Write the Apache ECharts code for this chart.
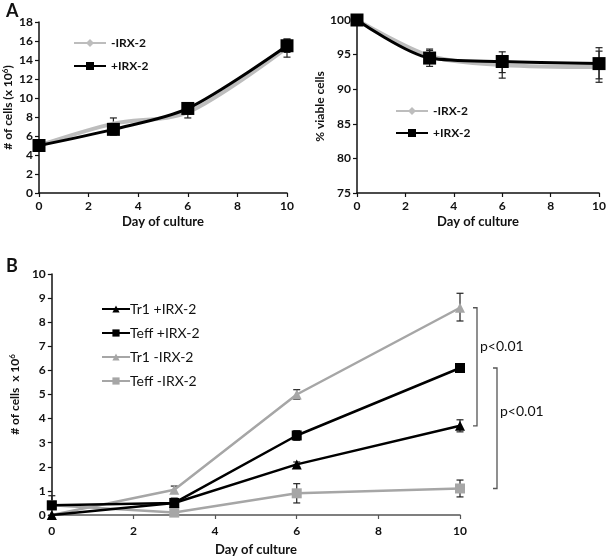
<!DOCTYPE html>
<html><head><meta charset="utf-8">
<script src="https://cdn.jsdelivr.net/npm/echarts@6/dist/echarts.min.js"></script>
<style>html,body{margin:0;padding:0;background:#fff}#c{width:609px;height:557px}</style>
</head><body><div id="c"></div>
<script>
// ---- data ----
const daysA = [0, 3, 6, 10];
const cellsMinus = [5.0, 7.3, 8.5, 15.3];
const cellsPlus = [5.0, 6.7, 8.9, 15.5];
const cellsMinusErr = [null, [6.7, 7.9], [7.9, 9.1], [14.3, 16.2]];
const cellsPlusErr = [null, [6.1, 7.3], [8.3, 9.4], [14.8, 16.2]];

const viaMinus = [100, 94.8, 93.5, 93.2];
const viaPlus = [100, 94.5, 94.0, 93.7];
const viaMinusErr = [null, [93.8, 95.6], [92.4, 94.6], [91.5, 95.5]];
const viaPlusErr = [null, [93.3, 95.8], [91.6, 95.4], [91.0, 96.0]];

const daysB = [0, 3, 6, 10];
const tr1Plus = [0.0, 0.5, 2.1, 3.7];
const teffPlus = [0.4, 0.5, 3.3, 6.1];
const tr1Minus = [0.0, 1.05, 5.0, 8.6];
const teffMinus = [0.4, 0.1, 0.9, 1.1];
const tr1PlusErr = [null, null, [2.0, 2.2], [3.45, 3.95]];
const teffPlusErr = [[0.0, 0.8], [0.3, 0.7], [3.1, 3.5], null];
const tr1MinusErr = [null, [0.9, 1.2], [4.8, 5.2], [8.05, 9.2]];
const teffMinusErr = [null, null, [0.5, 1.3], [0.75, 1.45]];

// significance brackets: [top, bottom, labelY]
const brackets = [[8.6, 3.7, 7.0], [6.1, 1.1, 4.3]];
const bracketLabel = 'p<0.01';

const xTicksA = [0, 10, 2];
const yTicksCells = [0, 18, 2];
const yTicksVia = [75, 100, 5];
const yTicksB = [0, 10, 1];

// ---- helpers ----
const FONT = 'Lato';
const pair = (xs, ys) => xs.map((x, i) => [x, ys[i]]);
const errData = (xs, errs) => xs.map((x, i) => errs[i] ? [x, errs[i][0], errs[i][1]] : null).filter(Boolean);

function errSeries(idx, xs, errs, color) {
  return {
    type: 'custom', xAxisIndex: idx, yAxisIndex: idx, z: 1, silent: true,
    data: errData(xs, errs),
    renderItem: function (params, api) {
      const lo = api.coord([api.value(0), api.value(1)]);
      const hi = api.coord([api.value(0), api.value(2)]);
      const w = 3.5;
      const st = { stroke: color || '#222', lineWidth: 1.2 };
      return { type: 'group', children: [
        { type: 'line', shape: { x1: lo[0], y1: lo[1], x2: hi[0], y2: hi[1] }, style: st },
        { type: 'line', shape: { x1: lo[0] - w, y1: lo[1], x2: lo[0] + w, y2: lo[1] }, style: st },
        { type: 'line', shape: { x1: hi[0] - w, y1: hi[1], x2: hi[0] + w, y2: hi[1] }, style: st }
      ]};
    }
  };
}

function axisX(idx, ticks, lineColor, gap, margin) {
  return {
    type: 'value', gridIndex: idx, min: ticks[0], max: ticks[1], interval: ticks[2],
    name: 'Day of culture', nameLocation: 'middle', nameGap: gap,
    nameTextStyle: { fontFamily: FONT, fontWeight: 'bold', fontSize: 13, color: '#111' },
    axisLine: { lineStyle: { color: lineColor, width: 1.5 } },
    axisTick: { show: true, length: 4, lineStyle: { color: lineColor, width: 1.2 } },
    axisLabel: { fontFamily: FONT, fontWeight: 'bold', fontSize: 12, color: '#111', margin: margin },
    splitLine: { show: false }
  };
}
function axisY(idx, ticks, name, gap) {
  return {
    type: 'value', gridIndex: idx, min: ticks[0], max: ticks[1], interval: ticks[2],
    name: name, nameLocation: 'middle', nameGap: gap,
    nameTextStyle: { fontFamily: FONT, fontWeight: 'bold', fontSize: 12, color: '#111',
      rich: { sup: { fontFamily: FONT, fontWeight: 'bold', fontSize: 8, verticalAlign: 'top', padding: [0,0,6,0] } } },
    axisLine: { show: true, lineStyle: { color: '#111', width: 1.5 } },
    axisTick: { show: true, length: 4, lineStyle: { color: '#111', width: 1.2 } },
    axisLabel: { fontFamily: FONT, fontWeight: 'bold', fontSize: 12, color: '#111', margin: 6 },
    splitLine: { show: false }
  };
}

const GRAY_A = '#bdbdbd', GRAY_B = '#a6a6a6';

const option = {
  animation: false,
  backgroundColor: '#fff',
  title: [
    { text: 'A', left: 1, top: -3, textStyle: { fontFamily: FONT, fontWeight: 'bold', fontSize: 18, color: '#111' } },
    { text: 'B', left: 1, top: 252, textStyle: { fontFamily: FONT, fontWeight: 'bold', fontSize: 18, color: '#111' } }
  ],
  grid: [
    { left: 39, top: 22, width: 248, height: 171 },
    { left: 357, top: 20, width: 246, height: 173 },
    { left: 39, top: 274, width: 421, height: 242 }
  ],
  xAxis: [axisX(0, xTicksA, '#111', 22, 7), axisX(1, xTicksA, '#111', 22, 7), axisX(2, xTicksA, '#555', 28, 10)],
  yAxis: [
    axisY(0, yTicksCells, '# of cells (x 10{sup|6})', 24),
    axisY(1, yTicksVia, '% viable cells', 28),
    axisY(2, yTicksB, '# of cells  x 10{sup|6}', 22)
  ],
  legend: [
    { data: ['-IRX-2', '+IRX-2'], orient: 'vertical', left: 68, top: 32, itemGap: 11, itemWidth: 32, itemHeight: 10,
      textStyle: { fontFamily: FONT, fontWeight: 'bold', fontSize: 12, color: '#111' } },
    { data: ['-IRX-2 ', '+IRX-2 '], orient: 'vertical', left: 390, top: 100, itemGap: 10, itemWidth: 32, itemHeight: 10,
      textStyle: { fontFamily: FONT, fontWeight: 'bold', fontSize: 12, color: '#111' } },
    { data: ['Tr1 +IRX-2', 'Teff +IRX-2', 'Tr1 -IRX-2', 'Teff -IRX-2'], orient: 'vertical', left: 96, top: 297,
      itemGap: 10, itemWidth: 28, itemHeight: 9,
      textStyle: { fontFamily: FONT, fontSize: 14, color: '#111', padding: [0,0,0,-5] } }
  ],
  series: [
    errSeries(0, daysA, cellsMinusErr),
    errSeries(0, daysA, cellsPlusErr),
    { name: '-IRX-2', type: 'line', xAxisIndex: 0, yAxisIndex: 0, smooth: 0.3, data: pair(daysA, cellsMinus),
      symbol: 'diamond', symbolSize: 5, lineStyle: { color: GRAY_A, width: 4 }, itemStyle: { color: GRAY_A }, z: 2 },
    { name: '+IRX-2', type: 'line', xAxisIndex: 0, yAxisIndex: 0, smooth: 0.3, data: pair(daysA, cellsPlus),
      symbol: 'rect', symbolSize: 13, lineStyle: { color: '#000', width: 3 }, itemStyle: { color: '#000' }, z: 3 },

    errSeries(1, daysA, viaMinusErr),
    errSeries(1, daysA, viaPlusErr),
    { name: '-IRX-2 ', type: 'line', xAxisIndex: 1, yAxisIndex: 1, smooth: 0.3, data: pair(daysA, viaMinus),
      symbol: 'diamond', symbolSize: 5, lineStyle: { color: GRAY_A, width: 4 }, itemStyle: { color: GRAY_A }, z: 2 },
    { name: '+IRX-2 ', type: 'line', xAxisIndex: 1, yAxisIndex: 1, smooth: 0.3, data: pair(daysA, viaPlus),
      symbol: 'rect', symbolSize: 13, lineStyle: { color: '#000', width: 3 }, itemStyle: { color: '#000' }, z: 3 },

    errSeries(2, daysB, tr1PlusErr),
    errSeries(2, daysB, teffPlusErr),
    errSeries(2, daysB, tr1MinusErr),
    errSeries(2, daysB, teffMinusErr),
    { name: 'Tr1 +IRX-2', type: 'line', xAxisIndex: 2, yAxisIndex: 2, data: pair(daysB, tr1Plus),
      symbol: 'triangle', symbolSize: 10, lineStyle: { color: '#000', width: 2.5 }, itemStyle: { color: '#000' }, z: 3 },
    { name: 'Teff +IRX-2', type: 'line', xAxisIndex: 2, yAxisIndex: 2, data: pair(daysB, teffPlus),
      symbol: 'rect', symbolSize: 10, lineStyle: { color: '#000', width: 2.5 }, itemStyle: { color: '#000' }, z: 3 },
    { name: 'Tr1 -IRX-2', type: 'line', xAxisIndex: 2, yAxisIndex: 2, data: pair(daysB, tr1Minus),
      symbol: 'triangle', symbolSize: 10, lineStyle: { color: GRAY_B, width: 2.5 }, itemStyle: { color: GRAY_B }, z: 2 },
    { name: 'Teff -IRX-2', type: 'line', xAxisIndex: 2, yAxisIndex: 2, data: pair(daysB, teffMinus),
      symbol: 'rect', symbolSize: 10, lineStyle: { color: GRAY_B, width: 2.5 }, itemStyle: { color: GRAY_B }, z: 2 },
    {
      type: 'custom', xAxisIndex: 2, yAxisIndex: 2, silent: true, clip: false,
      data: brackets.map((b, i) => [10, b[0], b[1], b[2], i]),
      renderItem: function (params, api) {
        const i = api.value(4);
        const dx = i === 0 ? 17 : 37;
        const top = api.coord([10, api.value(1)]);
        const bot = api.coord([10, api.value(2)]);
        const lab = api.coord([10, api.value(3)]);
        const x = top[0] + dx;
        const st = { stroke: '#555', lineWidth: 1.3, fill: null };
        return { type: 'group', children: [
          { type: 'polyline', shape: { points: [[x - 4, top[1]], [x, top[1]], [x, bot[1]], [x - 4, bot[1]]] }, style: st },
          { type: 'text', x: x + 3, y: lab[1], style: { text: bracketLabel, fontFamily: FONT, fontSize: 14, fill: '#111', verticalAlign: 'middle', align: 'left' } }
        ]};
      }
    }
  ]
};
const chart = echarts.init(document.getElementById('c'), null, { renderer: 'canvas' });
chart.setOption(option);
</script></body></html>
